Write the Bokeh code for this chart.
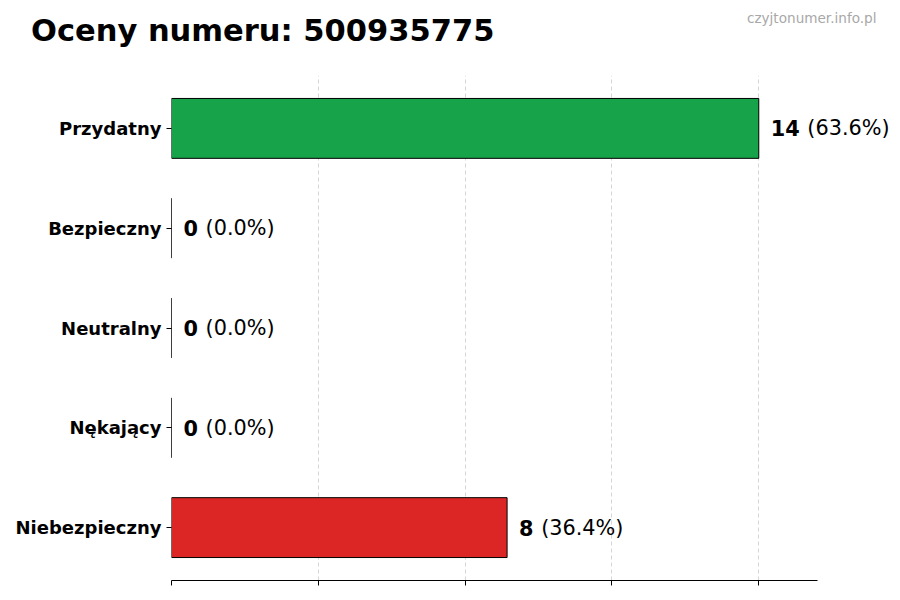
from bokeh.plotting import figure
from bokeh.layouts import column
from bokeh.models import ColumnDataSource, FactorRange, Range1d, FixedTicker, LabelSet, Label
from bokeh.core.properties import value
from bokeh.embed import file_html
from bokeh.resources import INLINE

categories = ["Przydatny", "Bezpieczny", "Neutralny", "Nękający", "Niebezpieczny"]
counts = [14, 0, 0, 0, 8]
colors = ["#16a34a", "#2563eb", "#6b7280", "#ea580c", "#dc2626"]
title_text = "Oceny numeru: 500935775"
watermark = "czyjtonumer.info.pl"

FONT = "DejaVu Sans"
VAL_FS = 20.8
total = sum(counts)
pcts = [f"({c / total * 100:.1f}%)" for c in counts]
num_txt = [str(c) for c in counts]
pct_off = [12 + len(t) * 0.696 * VAL_FS + 0.318 * VAL_FS + 1 for t in num_txt]

src = ColumnDataSource(dict(cat=categories, val=counts, color=colors,
                            num=num_txt, pct=pcts, pct_off=pct_off))

axis_end = max(counts) * 1.1
ticks = [max(counts) * i / 4 for i in range(5)]

W = 890
HEAD_H = 75                       # header strip holding the title and the watermark
MAIN_H = 517
LEFT, AXIS_PX = 171, 646          # frame left edge and length of the drawn x axis
frame_px = W - LEFT               # frame extends to the right edge so labels are not clipped
x_end = axis_end * frame_px / AXIS_PX

# ---- header (title + watermark) ----
head = figure(width=W, height=HEAD_H, output_backend="svg", toolbar_location=None,
              x_range=Range1d(0, W), y_range=Range1d(HEAD_H, 0),
              min_border=0, min_border_left=0, min_border_right=0,
              min_border_top=0, min_border_bottom=0)
head.frame_align = False
head.axis.visible = False
head.grid.visible = False
head.outline_line_color = None
head.add_layout(Label(x=30.5, y=29.5, text=title_text, text_font=FONT,
                      text_font_style="bold", text_font_size="30.5px",
                      text_color="black", text_baseline="alphabetic", text_align="left"))
head.add_layout(Label(x=876, y=17, text=watermark, text_font=FONT,
                      text_font_size="13.6px", text_color="#a8a8a8",
                      text_baseline="alphabetic", text_align="right"))

# ---- main bar chart ----
p = figure(width=W, height=MAIN_H, output_backend="svg", toolbar_location=None,
           y_range=FactorRange(factors=list(reversed(categories)), range_padding=0.012),
           x_range=Range1d(0, x_end),
           min_border_left=LEFT, min_border_right=0, min_border_top=0, min_border_bottom=12)
p.frame_align = False
p.outline_line_color = None
p.background_fill_color = "white"

p.hbar(y="cat", right="val", left=0, height=0.6, source=src,
       fill_color="color", fill_alpha=1.0, line_color="black", line_width=1)

p.add_layout(LabelSet(x="val", y="cat", text="num", source=src, x_offset=12,
                      text_font=value(FONT), text_font_style="bold", text_font_size=f"{VAL_FS}px",
                      text_baseline="middle", text_align="left", text_color="black"))
p.add_layout(LabelSet(x="val", y="cat", text="pct", source=src, x_offset="pct_off",
                      text_font=value(FONT), text_font_size=f"{VAL_FS}px",
                      text_baseline="middle", text_align="left", text_color="black"))

p.xaxis.ticker = FixedTicker(ticks=ticks)
p.xaxis.bounds = (0, axis_end)
p.xaxis.major_label_overrides = {t: "" for t in ticks}
p.xaxis.major_label_standoff = 0
p.xaxis.axis_line_color = "black"
p.xaxis.major_tick_line_color = "black"
p.xaxis.major_tick_out = 5
p.xaxis.major_tick_in = 0
p.xaxis.minor_tick_line_color = None

p.yaxis.axis_line_color = None
p.yaxis.major_tick_out = 5
p.yaxis.major_tick_in = 0
p.yaxis.major_tick_line_color = "black"
p.yaxis.major_label_text_font = FONT
p.yaxis.major_label_text_font_style = "bold"
p.yaxis.major_label_text_font_size = "18px"
p.yaxis.major_label_text_color = "black"
p.yaxis.major_label_standoff = 5

p.ygrid.grid_line_color = None
p.xgrid.ticker = p.xaxis.ticker
p.xgrid.grid_line_color = "#cccccc"
p.xgrid.grid_line_alpha = 0.8
p.xgrid.grid_line_dash = "4 3"
p.xgrid.grid_line_width = 1

layout = column(head, p, spacing=0)
open("out.html", "w").write(file_html(layout, INLINE))
